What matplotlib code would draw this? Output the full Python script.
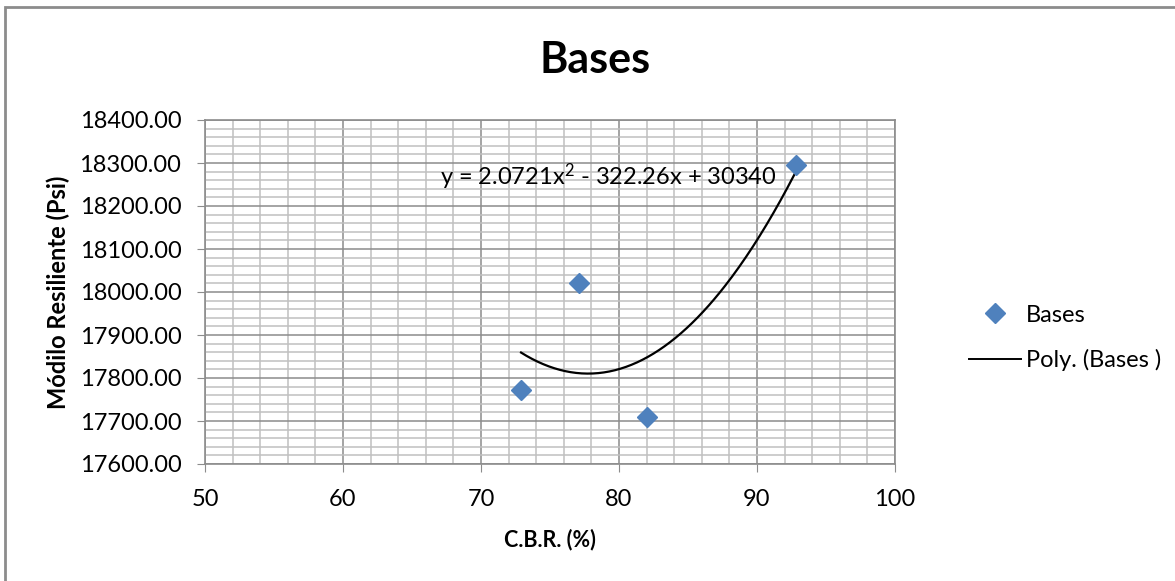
import numpy as np
import matplotlib
matplotlib.use('Agg')
import matplotlib.pyplot as plt
from matplotlib.patches import Rectangle
from matplotlib.lines import Line2D
from matplotlib.ticker import MultipleLocator, FormatStrFormatter

plt.rcParams['font.family'] = ['Lato', 'DejaVu Sans']
plt.rcParams['mathtext.fontset'] = 'custom'
plt.rcParams['mathtext.rm'] = 'Lato'
plt.rcParams['mathtext.it'] = 'Lato'
plt.rcParams['mathtext.default'] = 'regular'

# Data
cbr = [72.9, 77.1, 82.0, 92.8]
modulo = [17772, 18020, 17710, 18295]

# Trendline coefficients as printed on the chart
coef_a = 2.0721
coef_b = -322.26
coef_c = 30340
eq_label = 'y = 2.0721x$^{2}$ - 322.26x + 30340'

x_ticks = [50, 60, 70, 80, 90, 100]
y_ticks = [17600, 17700, 17800, 17900, 18000, 18100, 18200, 18300, 18400]

fig = plt.figure(figsize=(11.75, 5.81), dpi=100)
ax = fig.add_axes([205/1175, 1 - 464/581, 690/1175, 344/581])

# Gray frame around the chart area
fig.patches.append(Rectangle((5/1175, -0.05), 1.2, 1 - 7/581 + 0.05, transform=fig.transFigure,
                             fill=False, edgecolor='#8c8c8c', linewidth=2))

ax.set_xlim(50, 100)
ax.set_ylim(17600, 18400)
ax.set_xticks(x_ticks)
ax.set_yticks(y_ticks)
ax.xaxis.set_minor_locator(MultipleLocator(2))
ax.yaxis.set_minor_locator(MultipleLocator(20))
ax.yaxis.set_major_formatter(FormatStrFormatter('%.2f'))

ax.grid(which='major', color='#8c8c8c', linewidth=1.1)
ax.grid(which='minor', color='#c0c0c0', linewidth=1.1)
ax.set_axisbelow(True)
for s in ax.spines.values():
    s.set_color('#8c8c8c')
    s.set_linewidth(1.2)
ax.tick_params(which='major', length=6, color='#8c8c8c', labelsize=17)
ax.tick_params(axis='y', pad=11)
ax.tick_params(axis='x', pad=12)
ax.tick_params(which='minor', length=0)

# Trendline
xs = np.linspace(min(cbr), max(cbr), 200)
ys = coef_a * xs**2 + coef_b * xs + coef_c
ax.plot(xs, ys, color='black', linewidth=1.6, zorder=3)

ax.plot(cbr, modulo, linestyle='none', marker='D', markersize=10.5,
        color='#4f81bd', zorder=4)

ax.text(67, 18268, eq_label, fontsize=17, va='center', ha='left')

fig.text(595/1175, 1 - 60/581, 'Bases', fontsize=31, fontweight='bold',
         ha='center', va='center')
ax.set_xlabel('C.B.R. (%)', fontsize=15.5, fontweight='bold')
ax.set_ylabel('Módilo Resiliente (Psi)', fontsize=17, fontweight='bold')
ax.xaxis.set_label_coords(0.5, (464 - 529) / 344)
ax.yaxis.set_label_coords((70 - 205) / 690, 0.5)

handles = [Line2D([], [], linestyle='none', marker='D', markersize=10, color='#4f81bd'),
           Line2D([], [], color='black', linewidth=1.4)]
fig.legend(handles, ['Bases', 'Poly. (Bases )'], loc='center left',
           bbox_to_anchor=(948/1175, 1 - 338/581), frameon=False, fontsize=17,
           handlelength=2.2, labelspacing=1.0, handletextpad=0.2)

fig.savefig('out.png', dpi=100)
